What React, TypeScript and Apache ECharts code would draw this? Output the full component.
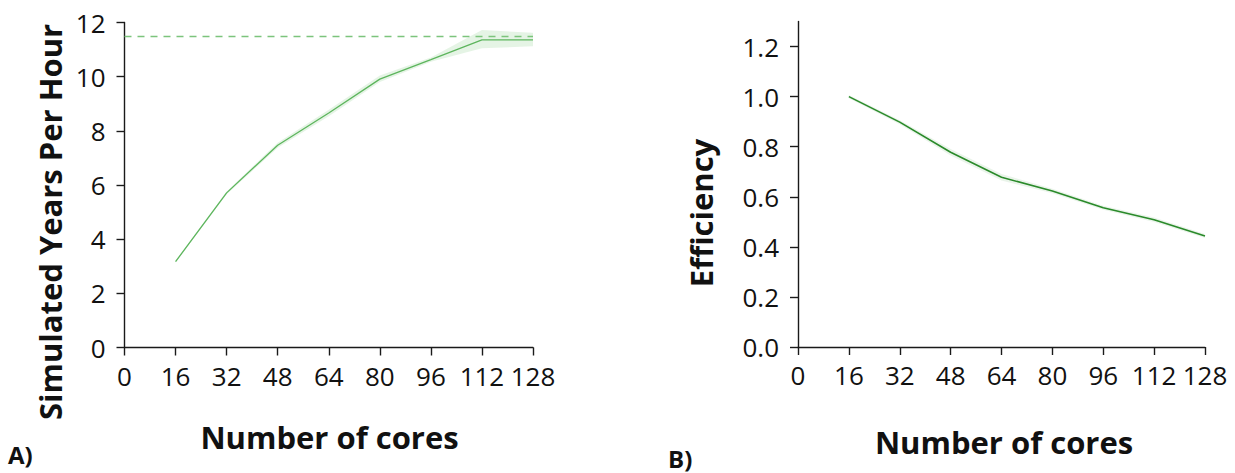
import React, { useEffect, useRef } from "react";
import * as echarts from "echarts";

const xTicks = ["0", "16", "32", "48", "64", "80", "96", "112", "128"];

// values per category (first category "0" has no measurement)
const syph = ["-", 3.17, 5.71, 7.47, 8.66, 9.91, 10.63, 11.36, 11.36];
const syphLow = ["-", 3.14, 5.66, 7.38, 8.54, 9.8, 10.55, 11.05, 11.12];
const syphHigh = ["-", 3.2, 5.76, 7.56, 8.78, 10.04, 10.71, 11.72, 11.62];
const idealSyph = 11.5;

const eff = ["-", 1.0, 0.898, 0.778, 0.678, 0.623, 0.556, 0.508, 0.443];
const effLow = ["-", 0.993, 0.89, 0.765, 0.665, 0.614, 0.548, 0.499, 0.435];
const effHigh = ["-", 1.006, 0.906, 0.791, 0.691, 0.632, 0.564, 0.517, 0.451];

const yTicksLeft = [0, 2, 4, 6, 8, 10, 12];
const yTicksRight = [0, 0.2, 0.4, 0.6, 0.8, 1.0, 1.2];

const LABEL_FONT = "'Open Sans', 'Noto Sans', sans-serif";

export default function App() {
  const ref = useRef<HTMLDivElement>(null);
  useEffect(() => {
    if (!ref.current) return;
    const chart = echarts.init(ref.current, undefined, { renderer: "svg" });
    const axisLineStyle = { color: "#1a1a1a", width: 1.4 };
    const labelStyle = { color: "#111", fontSize: 26, fontFamily: LABEL_FONT };
    const diff = (hi: any[], lo: any[]) =>
      hi.map((h, i) => (typeof h === "number" ? h - (lo[i] as number) : "-"));

    const xAxisCommon = {
      type: "category",
      data: xTicks,
      boundaryGap: false,
      splitLine: { show: false },
      axisLine: { show: true, lineStyle: axisLineStyle },
      axisTick: { show: true, length: 8, lineStyle: axisLineStyle, alignWithLabel: true },
      axisLabel: { ...labelStyle, margin: 15, interval: 0 },
    };

    chart.setOption({
      animation: false,
      backgroundColor: "#fff",
      grid: [
        { left: 124.5, top: 22.5, width: 408.5, height: 325 },
        { left: 798, top: 21.5, width: 407, height: 325.5 },
      ],
      xAxis: [
        { ...xAxisCommon, gridIndex: 0 },
        { ...xAxisCommon, gridIndex: 1 },
      ],
      yAxis: [
        {
          type: "value",
          gridIndex: 0,
          min: 0,
          max: 12,
          interval: 2,
          splitLine: { show: false },
          axisLine: { show: true, lineStyle: axisLineStyle },
          axisTick: { show: true, length: 8, lineStyle: axisLineStyle, customValues: yTicksLeft },
          axisLabel: { ...labelStyle, margin: 19, customValues: yTicksLeft },
        },
        {
          type: "value",
          gridIndex: 1,
          min: 0,
          max: 1.3,
          splitLine: { show: false },
          axisLine: { show: true, lineStyle: axisLineStyle },
          axisTick: { show: true, length: 8, lineStyle: axisLineStyle, customValues: yTicksRight },
          axisLabel: {
            ...labelStyle,
            margin: 19,
            customValues: yTicksRight,
            formatter: (v: number) => v.toFixed(1),
          },
        },
      ],
      series: [
        {
          type: "line",
          xAxisIndex: 0,
          yAxisIndex: 0,
          stack: "bandL",
          data: syphLow,
          symbol: "none",
          lineStyle: { opacity: 0 },
          silent: true,
        },
        {
          type: "line",
          xAxisIndex: 0,
          yAxisIndex: 0,
          stack: "bandL",
          data: diff(syphHigh, syphLow),
          symbol: "none",
          lineStyle: { opacity: 0 },
          areaStyle: { color: "rgba(110, 190, 110, 0.25)" },
          silent: true,
        },
        {
          type: "line",
          xAxisIndex: 0,
          yAxisIndex: 0,
          data: syph,
          symbol: "none",
          lineStyle: { color: "#5db55d", width: 1.3 },
          markLine: {
            silent: true,
            symbol: "none",
            label: { show: false },
            lineStyle: { color: "#7cc47c", type: [7, 6], width: 1.3 },
            data: [{ yAxis: idealSyph }],
          },
        },
        {
          type: "line",
          xAxisIndex: 1,
          yAxisIndex: 1,
          stack: "bandR",
          data: effLow,
          symbol: "none",
          lineStyle: { opacity: 0 },
          silent: true,
        },
        {
          type: "line",
          xAxisIndex: 1,
          yAxisIndex: 1,
          stack: "bandR",
          data: diff(effHigh, effLow),
          symbol: "none",
          lineStyle: { opacity: 0 },
          areaStyle: { color: "rgba(60, 150, 60, 0.15)" },
          silent: true,
        },
        {
          type: "line",
          xAxisIndex: 1,
          yAxisIndex: 1,
          data: eff,
          symbol: "none",
          lineStyle: { color: "#2a8a2a", width: 1.6 },
        },
      ],
      graphic: [
        {
          type: "text",
          x: 50,
          y: 222,
          rotation: Math.PI / 2,
          style: {
            text: "Simulated Years Per Hour",
            font: `bold 31px ${LABEL_FONT}`,
            fill: "#111",
            textAlign: "center",
            textVerticalAlign: "middle",
          },
        },
        {
          type: "text",
          x: 701,
          y: 213,
          rotation: Math.PI / 2,
          style: {
            text: "Efficiency",
            font: `bold 31px ${LABEL_FONT}`,
            fill: "#111",
            textAlign: "center",
            textVerticalAlign: "middle",
          },
        },
        {
          type: "text",
          x: 329.5,
          y: 436.5,
          style: {
            text: "Number of cores",
            font: `bold 31px ${LABEL_FONT}`,
            fill: "#111",
            textAlign: "center",
            textVerticalAlign: "middle",
          },
        },
        {
          type: "text",
          x: 1004,
          y: 442,
          style: {
            text: "Number of cores",
            font: `bold 31px ${LABEL_FONT}`,
            fill: "#111",
            textAlign: "center",
            textVerticalAlign: "middle",
          },
        },
        {
          type: "text",
          x: 8,
          y: 454,
          style: {
            text: "A)",
            font: `bold 24px ${LABEL_FONT}`,
            fill: "#111",
            textAlign: "left",
            textVerticalAlign: "middle",
          },
        },
        {
          type: "text",
          x: 668,
          y: 458,
          style: {
            text: "B)",
            font: `bold 24px ${LABEL_FONT}`,
            fill: "#111",
            textAlign: "left",
            textVerticalAlign: "middle",
          },
        },
      ],
    });
    return () => chart.dispose();
  }, []);
  return (
    <div
      ref={ref}
      style={{ position: "fixed", left: 0, top: 0, width: 1235, height: 473, background: "#fff" }}
    />
  );
}
